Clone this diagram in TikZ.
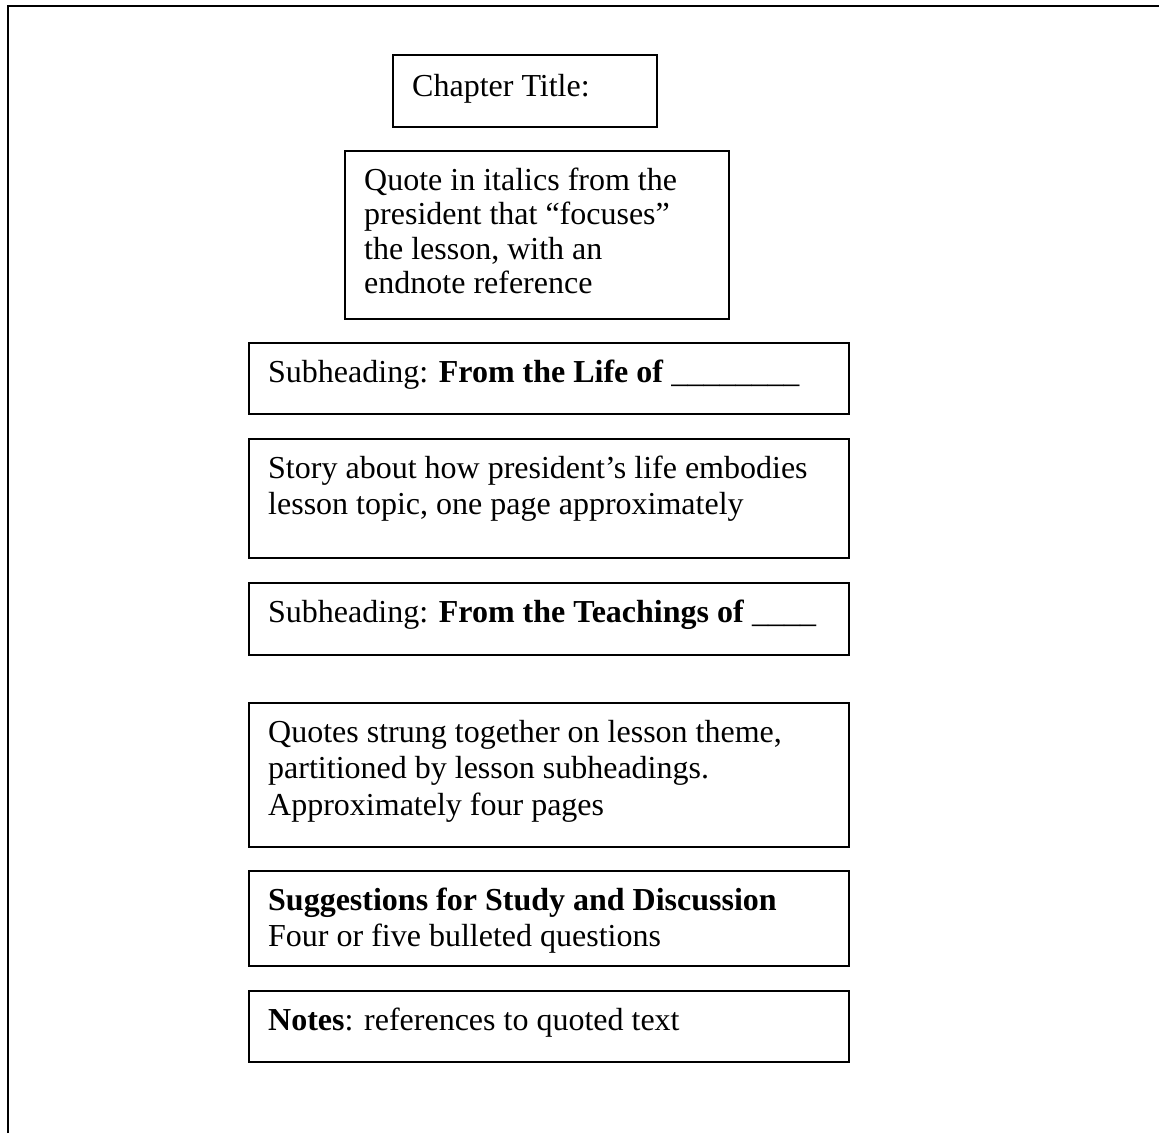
\documentclass[tikz,border=0pt]{standalone}
\usepackage{fontspec}
\setmainfont{Liberation Serif}
\begin{document}
\begin{tikzpicture}[x=1pt,y=-1pt,
  box/.style={draw, line width=1.9pt, inner sep=0pt, anchor=north west},
  txt/.style={anchor=base west, inner sep=0pt, font=\fontsize{32}{36.8}\selectfont}]
\useasboundingbox (0,0) rectangle (1159,1133);
\fill[white] (0,0) rectangle (1159,1133);
\draw[line width=2.8pt] (8,1133) -- (8,6) -- (1159,6);
% boxes
\node[box, minimum width=264pt, minimum height=72pt]  (b1) at (392,54) {};
\node[box, minimum width=384pt, minimum height=168pt] (b2) at (344,150) {};
\node[box, minimum width=600pt, minimum height=71pt]  (b3) at (248,342) {};
\node[box, minimum width=600pt, minimum height=119pt] (b4) at (248,438) {};
\node[box, minimum width=600pt, minimum height=72pt]  (b5) at (248,582) {};
\node[box, minimum width=600pt, minimum height=144pt] (b6) at (248,702) {};
\node[box, minimum width=600pt, minimum height=95pt]  (b7) at (248,870) {};
\node[box, minimum width=600pt, minimum height=71pt]  (b8) at (248,990) {};
% texts
\node[txt] (t1) at ([shift={(20,42)}]b1.north west) {Chapter Title:};
\node[txt, font=\fontsize{32}{34.6}\selectfont] (t2) at ([shift={(20,40)}]b2.north west) {\vtop{\hbox{Quote in italics from the}\hbox{president that “focuses”}\hbox{the lesson, with an}\hbox{endnote reference}}};
\node[txt] (t3) at ([shift={(20,40)}]b3.north west) {Subheading: \textbf{From the Life of} \_\_\_\_\_\_\_\_};
\node[txt] (t4) at ([shift={(20,40)}]b4.north west) {\vtop{\hbox{Story about how president’s life embodies}\hbox{lesson topic, one page approximately}}};
\node[txt] (t5) at ([shift={(20,40)}]b5.north west) {Subheading: \textbf{From the Teachings of} \_\_\_\_};
\node[txt] (t6) at ([shift={(20,40)}]b6.north west) {\vtop{\hbox{Quotes strung together on lesson theme,}\hbox{partitioned by lesson subheadings.}\hbox{Approximately four pages}}};
\node[txt] (t7) at ([shift={(20,40)}]b7.north west) {\vtop{\hbox{\textbf{Suggestions for Study and Discussion}}\hbox{Four or five bulleted questions}}};
\node[txt] (t8) at ([shift={(20,40)}]b8.north west) {\textbf{Notes}: references to quoted text};
\end{tikzpicture}
\end{document}
